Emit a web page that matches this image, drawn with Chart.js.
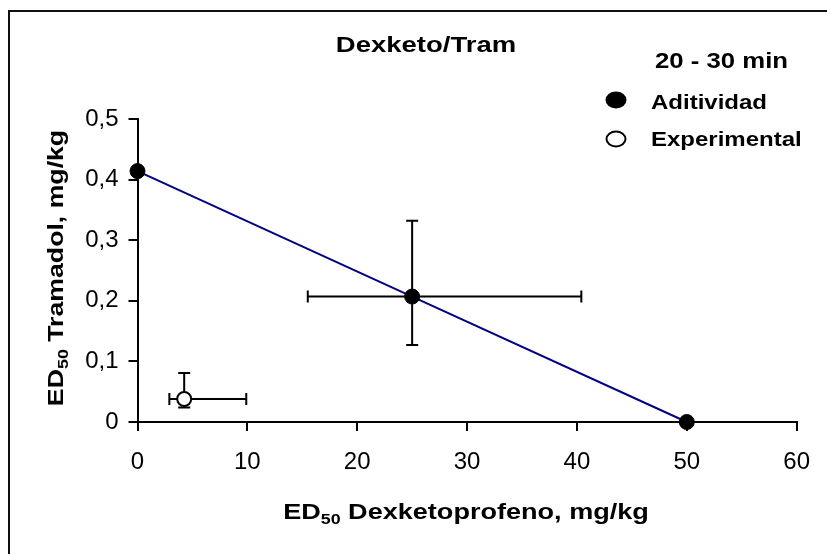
<!DOCTYPE html>
<html><head><meta charset="utf-8">
<script src="https://cdn.jsdelivr.net/npm/chart.js@4/dist/chart.umd.min.js"></script>
<style>html,body{margin:0;padding:0;background:#fff;}#wrap{width:827px;height:554px;position:relative;}</style>
</head><body><div id="wrap"><canvas id="c" width="827" height="554"></canvas></div>
<script>
// ---- data ----
const chartTitle = 'Dexketo/Tram';
const legendTitle = '20 - 30 min';
const xTitleMain = 'ED';
const xTitleSub = '50';
const xTitleRest = ' Dexketoprofeno, mg/kg';
const yTitleMain = 'ED';
const yTitleSub = '50';
const yTitleRest = ' Tramadol, mg/kg';
const xTickValues = [0, 10, 20, 30, 40, 50, 60];
const yTickLabels = ['0', '0,1', '0,2', '0,3', '0,4', '0,5'];

const aditLabel = 'Aditividad';
const aditX = [0, 25, 50];
const aditY = [0.414, 0.207, 0];
const aditXLow = [null, 15.5, null];
const aditXHigh = [null, 40.4, null];
const aditYLow = [null, 0.127, null];
const aditYHigh = [null, 0.332, null];

const expLabel = 'Experimental';
const expX = [4.25];
const expY = [0.038];
const expXLow = [2.9];
const expXHigh = [9.9];
const expYLow = [0.024];
const expYHigh = [0.081];

const FONT = "'Liberation Sans', Arial, sans-serif";

function toPts(xs, ys) { return xs.map((x, i) => ({ x: x, y: ys[i] })); }

const errorSets = [
  { x: aditX, y: aditY, xl: aditXLow, xh: aditXHigh, yl: aditYLow, yh: aditYHigh },
  { x: expX, y: expY, xl: expXLow, xh: expXHigh, yl: expYLow, yh: expYHigh }
];

const errorBarPlugin = {
  id: 'errorBars',
  beforeDatasetsDraw(chart) {
    const ctx = chart.ctx, xs = chart.scales.x, ys = chart.scales.y;
    ctx.save();
    ctx.strokeStyle = '#000';
    ctx.lineWidth = 2;
    const cap = 6;
    errorSets.forEach(s => {
      s.x.forEach((xv, i) => {
        const px = xs.getPixelForValue(xv), py = ys.getPixelForValue(s.y[i]);
        if (s.xl[i] != null) {
          const a = xs.getPixelForValue(s.xl[i]), b = xs.getPixelForValue(s.xh[i]);
          ctx.beginPath();
          ctx.moveTo(a, py); ctx.lineTo(b, py);
          ctx.moveTo(a, py - cap); ctx.lineTo(a, py + cap);
          ctx.moveTo(b, py - cap); ctx.lineTo(b, py + cap);
          ctx.stroke();
        }
        if (s.yl[i] != null) {
          const a = ys.getPixelForValue(s.yl[i]), b = ys.getPixelForValue(s.yh[i]);
          ctx.beginPath();
          ctx.moveTo(px, a); ctx.lineTo(px, b);
          ctx.moveTo(px - cap, a); ctx.lineTo(px + cap, a);
          ctx.moveTo(px - cap, b); ctx.lineTo(px + cap, b);
          ctx.stroke();
        }
      });
    });
    ctx.restore();
  }
};

function stretchedText(ctx, parts, cx, cy, sx, rot) {
  ctx.save();
  ctx.translate(cx, cy);
  if (rot) ctx.rotate(rot);
  ctx.scale(sx, 1);
  let total = 0;
  parts.forEach(p => { ctx.font = 'bold ' + p.size + 'px ' + FONT; p.w = ctx.measureText(p.t).width; total += p.w; });
  let x = -total / 2;
  ctx.textBaseline = 'alphabetic';
  ctx.textAlign = 'left';
  ctx.fillStyle = '#000';
  const base = parts[0].size * 0.358;
  parts.forEach(p => {
    ctx.font = 'bold ' + p.size + 'px ' + FONT;
    ctx.fillText(p.t, x, base + (p.dy || 0));
    x += p.w;
  });
  ctx.restore();
}

function leftText(ctx, t, x, capCy, size, sx) {
  ctx.save();
  ctx.translate(x, capCy);
  ctx.scale(sx, 1);
  ctx.font = 'bold ' + size + 'px ' + FONT;
  ctx.fillStyle = '#000';
  ctx.textBaseline = 'alphabetic';
  ctx.textAlign = 'left';
  ctx.fillText(t, 0, size * 0.358);
  ctx.restore();
}

const decorPlugin = {
  id: 'decor',
  afterDraw(chart) {
    const ctx = chart.ctx;
    ctx.save();
    ctx.strokeStyle = '#111';
    ctx.lineWidth = 2;
    ctx.beginPath();
    ctx.moveTo(9, 560); ctx.lineTo(9, 11); ctx.lineTo(830, 11);
    ctx.stroke();
    ctx.restore();

    stretchedText(ctx, [{ t: chartTitle, size: 22 }], 426, 44, 1.25, 0);
    leftText(ctx, legendTitle, 655, 60, 22, 1.17);

    const ds = chart.data.datasets;
    ctx.save();
    ctx.lineWidth = 2;
    ctx.strokeStyle = '#000';
    ctx.fillStyle = ds[0].pointBackgroundColor;
    ctx.beginPath(); ctx.ellipse(616, 100, 10.5, 8.5, 0, 0, Math.PI * 2); ctx.fill();
    ctx.fillStyle = ds[1].pointBackgroundColor;
    ctx.beginPath(); ctx.ellipse(616, 139, 9.5, 7.5, 0, 0, Math.PI * 2); ctx.fill(); ctx.stroke();
    ctx.restore();
    leftText(ctx, ds[0].label, 651, 102, 20, 1.2);
    leftText(ctx, ds[1].label, 651, 139, 20, 1.2);

    stretchedText(ctx, [{ t: xTitleMain, size: 22 }, { t: xTitleSub, size: 14.5, dy: 5 }, { t: xTitleRest, size: 22 }], 466, 511, 1.23, 0);
    stretchedText(ctx, [{ t: yTitleMain, size: 21.5 }, { t: yTitleSub, size: 14.5, dy: 5 }, { t: yTitleRest, size: 21.5 }], 55, 268, 1.24, -Math.PI / 2);
  }
};

const axisGrid = { drawOnChartArea: false, drawTicks: true, tickLength: 9, color: '#000', lineWidth: 2 };

new Chart(document.getElementById('c'), {
  type: 'scatter',
  data: {
    datasets: [
      {
        label: aditLabel,
        data: toPts(aditX, aditY),
        showLine: true,
        borderColor: '#000080',
        borderWidth: 2,
        pointBackgroundColor: '#000',
        pointBorderColor: '#000',
        pointBorderWidth: 1,
        pointRadius: 7.5,
        clip: false,
        order: 1
      },
      {
        label: expLabel,
        data: toPts(expX, expY),
        showLine: false,
        pointBackgroundColor: '#fff',
        pointBorderColor: '#000',
        pointBorderWidth: 2,
        pointRadius: 7,
        clip: false,
        order: 0
      }
    ]
  },
  options: {
    responsive: false,
    animation: false,
    events: [],
    layout: { padding: { left: 0, top: 119, right: 28, bottom: 82 } },
    plugins: { legend: { display: false }, title: { display: false }, tooltip: { enabled: false } },
    scales: {
      x: {
        type: 'linear', min: 0, max: 60,
        afterBuildTicks: s => { s.ticks = xTickValues.map(v => ({ value: v })); },
        ticks: { color: '#000', font: { family: FONT, size: 24 }, padding: 17, maxRotation: 0 },
        grid: axisGrid,
        border: { color: '#000', width: 2 },
        afterFit: s => { s.height = 50; }
      },
      y: {
        type: 'linear', min: 0, max: 0.5,
        afterBuildTicks: s => { s.ticks = yTickLabels.map((l, i) => ({ value: i / 10 })); },
        ticks: { color: '#000', font: { family: FONT, size: 24 }, padding: 10, callback: (v, i) => yTickLabels[i] },
        grid: axisGrid,
        border: { color: '#000', width: 2 },
        afterFit: s => { s.width = 137.5; }
      }
    }
  },
  plugins: [errorBarPlugin, decorPlugin]
});
</script>
</body></html>
